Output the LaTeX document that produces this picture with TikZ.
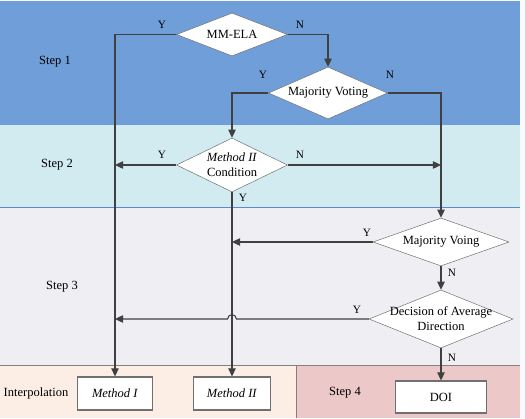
\documentclass[tikz,border=0pt]{standalone}
\usepackage{fontspec}
\setmainfont{Liberation Serif}
\usetikzlibrary{shapes.geometric,arrows.meta}
\definecolor{stepone}{HTML}{6F9ED8}
\definecolor{steptwo}{HTML}{D2EBF0}
\definecolor{stepthree}{HTML}{EFEEF3}
\definecolor{interp}{HTML}{FDEEE5}
\definecolor{stepfour}{HTML}{ECC9C8}
\definecolor{flowline}{HTML}{404040}
\definecolor{shapeline}{HTML}{707070}
\definecolor{bandline}{HTML}{5B8BCB}

\begin{document}
\begin{tikzpicture}[
    x=0.8pt, y=-0.8pt,
    decision/.style={diamond, draw=shapeline, fill=white, inner sep=0pt, aspect=2.4, align=center, font=\normalsize},
    result/.style={rectangle, draw=shapeline, line width=0.9pt, fill=white, inner sep=0pt, font=\normalsize},
    arrow/.style={-{Triangle[length=6.5pt, width=6pt]}, draw=flowline, line width=0.85pt},
    yn/.style={font=\small, inner sep=0pt},
    steplabel/.style={font=\normalsize, inner sep=0pt}
]
\useasboundingbox (0,0) rectangle (525,418);
\fill[white!95!stepone] (0,0) rectangle (525,418);

% Bands
\fill[stepone] (0,1.5) rectangle (520,125);
\fill[steptwo] (0,125) rectangle (520,207);
\fill[stepthree] (0,207) rectangle (520,365);
\fill[interp] (0,365) rectangle (296,418);
\fill[stepfour] (296,365) rectangle (520,418);
\draw[bandline, line width=0.6pt] (0,207) -- (520,207);
\draw[gray, line width=0.8pt] (0,365) -- (520,365);
\draw[gray, line width=0.8pt] (296,365) -- (296,418);

% Step names
\node[steplabel] (stepa) at (55,62) {Step 1};
\node[steplabel] (stepb) at (57,165) {Step 2};
\node[steplabel] (stepc) at (62,287) {Step 3};
\node[steplabel] (interpol) at (36,393) {Interpolation};
\node[steplabel] (stepd) at (345,393) {Step 4};

% Decisions
\node[decision, minimum width=88.8pt, minimum height=34.4pt] (mmela) at (232,34.5) {MM-ELA};
\node[decision, minimum width=95.2pt, minimum height=41.6pt] (vote) at (328,93) {Majority Voting};
\node[decision, aspect=2, minimum width=88.8pt, minimum height=43.2pt] (cond) at (232,165) {\textit{Method II}\\Condition};
\node[decision, minimum width=108.8pt, minimum height=38.4pt] (voing) at (441,242) {Majority Voing};
\node[decision, inner xsep=-18pt, minimum width=115.2pt, minimum height=46.4pt] (avg) at (441,319) {Decision of Average\\Direction};

% Results
\node[result, minimum width=60pt, minimum height=26.4pt] (mone) at (115,393.5) {\textit{Method I}};
\node[result, minimum width=61.6pt, minimum height=26.4pt] (mtwo) at (232,393.5) {\textit{Method II}};
\node[result, minimum width=72.8pt, minimum height=25.6pt] (doi) at (441,397) {DOI};

% Joints
\coordinate (lefty) at (cond.west -| mone.north);
\coordinate (righty) at (cond.east -| voing.north);
\coordinate (midy) at (voing.west -| mtwo.north);
\coordinate (hop) at (avg.west -| mtwo.north);
\coordinate (lowy) at (avg.west -| mone.north);

% Arrows
\draw[arrow] (mmela.west) -| (mone.north);
\draw[arrow] (mmela.east) -| (vote.north);
\draw[arrow] (vote.west) -| (cond.north);
\draw[arrow] (vote.east) -| (voing.north);
\draw[arrow] (cond.west) -- (lefty);
\draw[arrow] (cond.east) -- (righty);
\draw[arrow] (cond.south) -- (mtwo.north);
\draw[arrow] (voing.west) -- (midy);
\draw[arrow] (voing.south) -- (avg.north);
\draw[arrow] (avg.west) -- ([xshift=3.5pt]hop) arc[start angle=0, end angle=180, radius=3.5pt] -- (lowy);
\draw[arrow] (avg.south) -- (doi.north);

% Labels
\node[yn] (y1) at (162,25) {Y};
\node[yn] (n1) at (300,25) {N};
\node[yn] (y2) at (263,75) {Y};
\node[yn] (n2) at (390,75) {N};
\node[yn] (y3) at (162,155) {Y};
\node[yn] (n3) at (300,155) {N};
\node[yn] (y4) at (243,198) {Y};
\node[yn] (y5) at (367,233) {Y};
\node[yn] (n5) at (452,273) {N};
\node[yn] (y6) at (357,310) {Y};
\node[yn] (n6) at (452,358) {N};

\end{tikzpicture}
\end{document}
